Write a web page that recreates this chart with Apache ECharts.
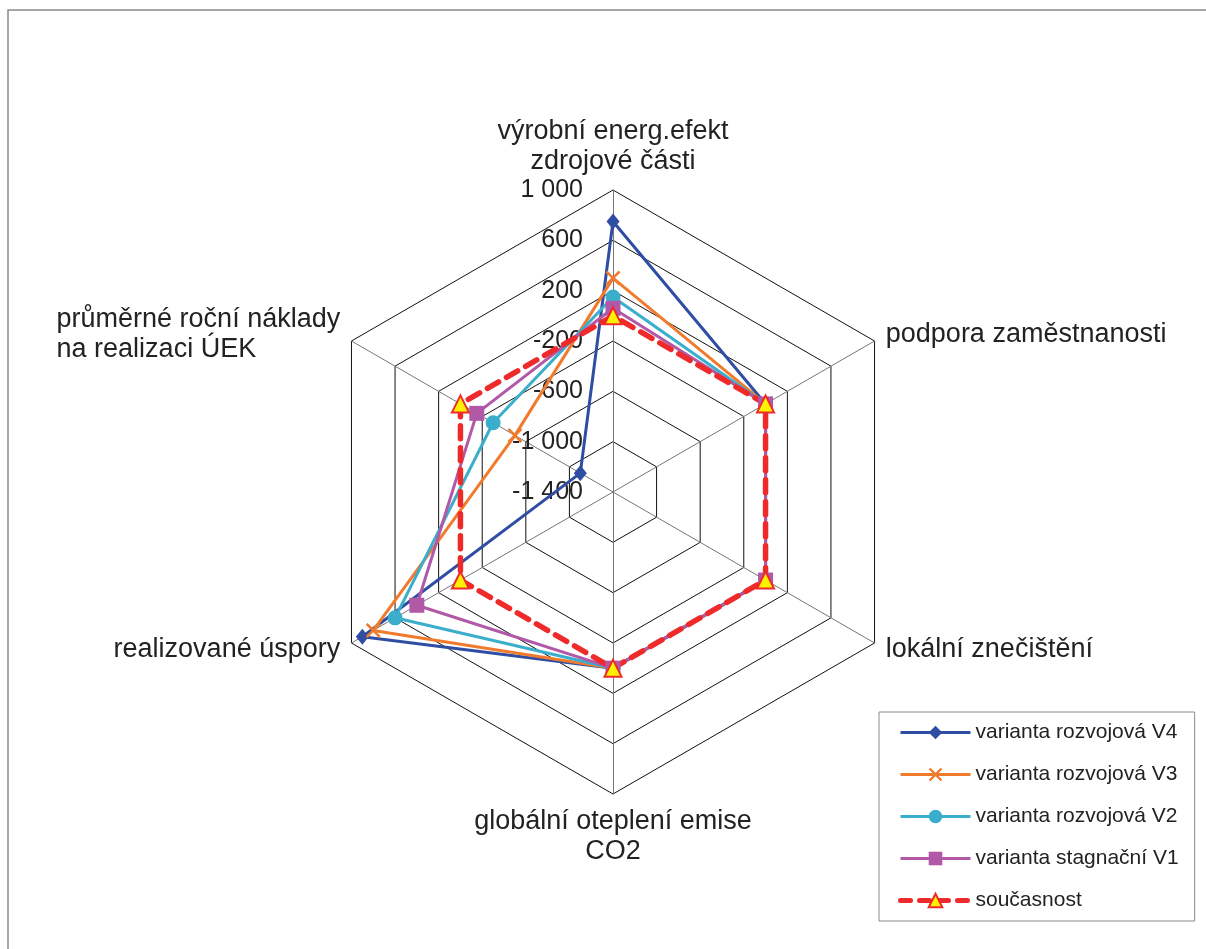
<!DOCTYPE html>
<html>
<head>
<meta charset="utf-8">
<script src="https://cdn.jsdelivr.net/npm/echarts@6/dist/echarts.min.js"></script>
<style>
html,body{margin:0;padding:0;background:#fff;}
#chart{width:1206px;height:949px;}
</style>
</head>
<body>
<div id="chart"></div>
<script>
// Indicators in counter-clockwise order starting from the top
var indicatorNames = [
  'výrobní energ.efekt\nzdrojové části',
  'průměrné roční náklady\nna realizaci ÚEK',
  'realizované úspory',
  'globální oteplení emise\nCO2',
  'lokální znečištění',
  'podpora zaměstnanosti'
];
var axisMin = -1400;
var axisMax = 1000;
var tickLabels = ['-1 400', '-1 000', '-600', '-200', '200', '600', '1 000'];

var seriesNames = [
  'varianta rozvojová V4',
  'varianta rozvojová V3',
  'varianta rozvojová V2',
  'varianta stagnační V1',
  'současnost'
];
var v4 = [750, -1100, 900, 0, 0, 0];
var v3 = [300, -500, 800, 0, 0, 0];
var v2 = [150, -300, 600, 0, 0, 0];
var v1 = [60, -150, 400, 0, 0, 0];
var soucasnost = [0, 0, 0, 0, 0, 0];

var seriesValues = [v4, v3, v2, v1, soucasnost];
var colors = ['#2E4DA3', '#F07B2C', '#3AAECB', '#B158A7', '#EE2A2A'];
var xPath = 'path://M0,1.2 L1.2,0 L5,3.8 L8.8,0 L10,1.2 L6.2,5 L10,8.8 L8.8,10 L5,6.2 L1.2,10 L0,8.8 L3.8,5 Z';
var symbols = ['diamond', xPath, 'circle', 'rect', 'triangle'];
var symbolSizes = [[13, 16], 15, 15, 15, 17];

function fmt(v) {
  var i = Math.round((v - axisMin) / 400);
  return tickLabels[i] != null ? tickLabels[i] : String(v);
}

var indicators = indicatorNames.map(function (n, i) {
  var o = { name: n, min: axisMin, max: axisMax };
  if (i === 0) {
    o.axisLabel = { show: true };
  }
  return o;
});

var series = [];
// empty line series only to provide line+marker legend icons
seriesNames.forEach(function (n, i) {
  var isCur = i === 4;
  series.push({
    type: 'line',
    name: n,
    data: [],
    symbol: symbols[i],
    lineStyle: { color: colors[i], width: isCur ? 5 : 3, type: isCur ? [10, 9] : 'solid', cap: isCur ? 'round' : 'butt' },
    itemStyle: isCur ? { color: '#FFF200', borderColor: colors[i], borderWidth: 2 } : { color: colors[i] }
  });
});
series.push({
  type: 'radar',
  silent: true,
  z: 3,
  data: seriesNames.map(function (n, i) {
    var isCur = i === 4;
    return {
      name: n,
      value: seriesValues[i],
      symbol: symbols[i],
      symbolSize: symbolSizes[i],
      lineStyle: { color: colors[i], width: isCur ? 5.5 : 3, type: isCur ? [13, 9] : 'solid', cap: isCur ? 'round' : 'butt' },
      itemStyle: isCur ? { color: '#FFF200', borderColor: colors[i], borderWidth: 2 } : { color: colors[i] }
    };
  })
});

var chart = echarts.init(document.getElementById('chart'), null, { renderer: 'canvas' });
chart.setOption({
  animation: false,
  backgroundColor: '#fff',
  textStyle: { fontFamily: 'Liberation Sans, Arial, sans-serif' },
  graphic: [{
    type: 'rect',
    shape: { x: 8, y: 10, width: 1400, height: 1200 },
    style: { fill: 'none', stroke: '#8a8a8a', lineWidth: 1.5 },
    silent: true
  }],
  grid: { show: false, left: 0, top: 0, width: 1, height: 1 },
  xAxis: { type: 'category', show: false },
  yAxis: { type: 'value', show: false },
  legend: {
    orient: 'vertical',
    left: 879,
    top: 712,
    data: seriesNames,
    itemWidth: 70,
    itemHeight: 17,
    itemGap: 21,
    padding: [10, 16, 10, 19],
    borderColor: '#8a8a8a',
    borderWidth: 1,
    lineStyle: { width: 'inherit' },
    textStyle: { fontSize: 21, color: '#222', fontFamily: 'Liberation Sans, Arial, sans-serif' }
  },
  radar: {
    center: [613, 492],
    radius: 302,
    startAngle: 90,
    splitNumber: 6,
    shape: 'polygon',
    indicator: indicators,
    axisName: {
      color: '#222',
      fontSize: 27,
      lineHeight: 30,
      fontFamily: 'Liberation Sans, Arial, sans-serif',
      formatter: function (name) {
        if (name.indexOf('průměrné') === 0) {
          return name.split('\n').map(function (s) { return '{l|' + s + '}'; }).join('\n');
        }
        return name;
      },
      rich: { l: { align: 'left', fontSize: 27, lineHeight: 30, color: '#222' } }
    },
    nameGap: 13,
    axisLine: { lineStyle: { color: '#777', width: 1 } },
    splitLine: { lineStyle: { color: '#111', width: 1 } },
    splitArea: { show: false },
    axisTick: { show: false },
    axisLabel: {
      show: false,
      fontSize: 25,
      color: '#222',
      margin: 30,
      fontFamily: 'Liberation Sans, Arial, sans-serif',
      formatter: function (v) { return fmt(v); }
    }
  },
  series: series
});
</script>
</body>
</html>
